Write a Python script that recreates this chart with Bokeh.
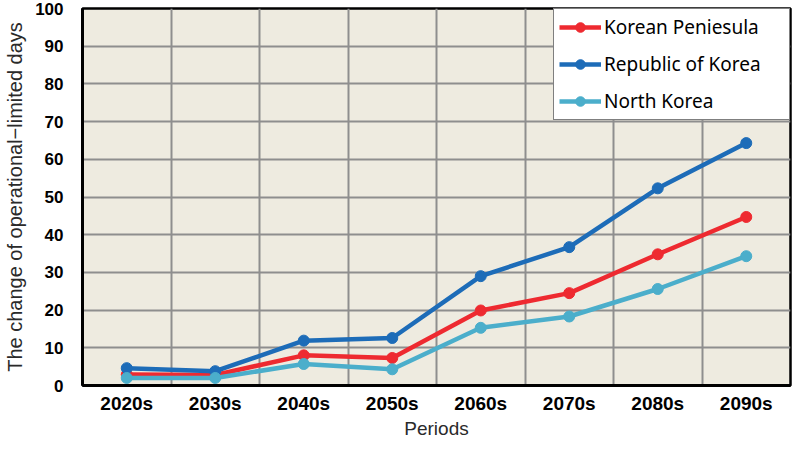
from bokeh.plotting import figure
from bokeh.models import FixedTicker, Range1d, FactorRange
from bokeh.embed import file_html
from bokeh.resources import INLINE

periods = ["2020s", "2030s", "2040s", "2050s", "2060s", "2070s", "2080s", "2090s"]
korean_peninsula = [2.9, 2.8, 8.0, 7.3, 19.9, 24.5, 34.8, 44.7]
republic_of_korea = [4.6, 3.8, 11.9, 12.6, 29.0, 36.7, 52.3, 64.3]
north_korea = [2.0, 2.0, 5.7, 4.3, 15.3, 18.3, 25.6, 34.3]
y_ticks = [0, 10, 20, 30, 40, 50, 60, 70, 80, 90, 100]
x_title = "Periods"
y_title = "The change of operational\u2212limited days"

series = [
    ("Korean Peniesula", korean_peninsula, "#EE2A30"),
    ("Republic of Korea", republic_of_korea, "#1D6CB8"),
    ("North Korea", north_korea, "#4BAECB"),
]

p = figure(width=792, height=441, x_range=FactorRange(*periods), y_range=Range1d(0, 100),
           output_backend="svg", toolbar_location=None,
           min_border_left=82, min_border_right=2, min_border_top=8, min_border_bottom=56)
p.background_fill_color = "#EEEBE0"
p.border_fill_color = "white"
p.outline_line_color = "black"
p.outline_line_width = 2.5

for name, vals, col in series:
    p.line(periods, vals, line_color=col, line_width=4.5, legend_label=name)
    p.scatter(periods, vals, size=11, fill_color=col, line_color=col, legend_label=name)

p.x_range.range_padding = 0
p.xgrid.ticker = FixedTicker(ticks=[1, 2, 3, 4, 5, 6, 7])
p.xgrid.grid_line_color = "#8E8E8E"
p.xgrid.grid_line_width = 2
p.ygrid.ticker = FixedTicker(ticks=y_ticks)
p.ygrid.grid_line_color = "#8E8E8E"
p.ygrid.grid_line_width = 2

p.yaxis.ticker = FixedTicker(ticks=y_ticks)
for ax in (p.xaxis, p.yaxis):
    ax.axis_line_color = "black"
    ax.axis_line_width = 3
    ax.major_tick_line_color = None
    ax.minor_tick_line_color = None
    ax.major_tick_out = 0
    ax.major_tick_in = 0
    ax.minor_tick_out = 0
    ax.minor_tick_in = 0
    ax.major_label_text_font = "Liberation Sans"
    ax.major_label_text_font_style = "bold"
    ax.major_label_text_color = "black"
    ax.axis_label_text_font = "Liberation Sans"
    ax.axis_label_text_font_style = "normal"
    ax.axis_label_text_color = "#2a2a2a"

p.xaxis.major_label_text_font_size = "19px"
p.yaxis.major_label_text_font_size = "17px"
p.yaxis.axis_label = y_title
p.yaxis.axis_label_text_font_size = "20px"
p.yaxis.major_label_standoff = 19
p.yaxis.axis_label_standoff = 6
p.xaxis.axis_label = x_title
p.xaxis.axis_label_text_font_size = "19px"
p.xaxis.major_label_standoff = 7
p.xaxis.axis_label_standoff = 1

lg = p.legend[0]
lg.location = "top_right"
lg.margin = 0
lg.padding = 5
lg.spacing = 11
lg.glyph_width = 42
lg.glyph_height = 24
lg.label_height = 24
lg.label_width = 180
lg.label_standoff = 3
lg.label_text_font = "Noto Sans"
lg.label_text_font_size = "19px"
lg.label_text_color = "black"
lg.border_line_color = "black"
lg.border_line_width = 1.5
lg.background_fill_color = "white"
lg.background_fill_alpha = 1

open("out.html", "w").write(file_html(p, INLINE))
